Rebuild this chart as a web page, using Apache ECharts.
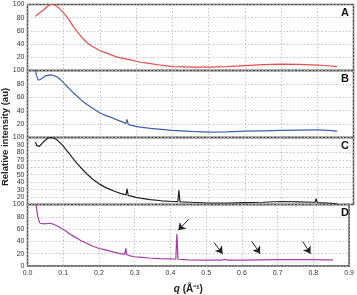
<!DOCTYPE html>
<html>
<head>
<meta charset="utf-8">
<script src="https://cdn.jsdelivr.net/npm/echarts@6/dist/echarts.min.js"></script>
<style>
  html, body { margin: 0; padding: 0; background: #fff; }
  #chart { width: 357px; height: 295px; }
</style>
</head>
<body>
<div id="chart"></div>
<script>
  // q values and intensities
  const qA = [0.022, 0.03, 0.045, 0.055, 0.063, 0.072, 0.082, 0.09, 0.1, 0.109, 0.118, 0.127, 0.137, 0.146, 0.155, 0.165, 0.174, 0.187, 0.2, 0.215, 0.229, 0.242, 0.256, 0.27, 0.284, 0.3, 0.311, 0.325, 0.339, 0.37, 0.4, 0.45, 0.5, 0.55, 0.6, 0.65, 0.7, 0.75, 0.8, 0.83, 0.855]
  const valA = [82, 86, 92, 97, 100, 100, 97, 93, 87, 81, 74, 66, 59, 53, 47, 42, 38, 34, 30, 27, 24, 21.5, 19, 17.5, 16, 14, 12.5, 11.5, 10.5, 8, 6, 5, 5, 6, 7.5, 8.8, 9.7, 9.3, 8.2, 7.2, 6]

  const qB = [0.021, 0.025, 0.029, 0.031, 0.035, 0.04, 0.05, 0.063, 0.072, 0.082, 0.091, 0.1, 0.109, 0.118, 0.127, 0.137, 0.15, 0.165, 0.18, 0.2, 0.215, 0.229, 0.242, 0.256, 0.272, 0.275, 0.278, 0.284, 0.3, 0.311, 0.339, 0.37, 0.4, 0.45, 0.5, 0.55, 0.6, 0.65, 0.7, 0.75, 0.792, 0.795, 0.798, 0.83, 0.855]
  const valB = [101, 93, 86, 85, 86.5, 89, 92, 93.5, 92.5, 90.5, 86.5, 81.5, 76.5, 71.5, 66.5, 61.5, 55, 49, 43.5, 36.5, 33, 30.5, 27.5, 24.5, 21, 27, 19.5, 18.5, 16.5, 15.5, 13.5, 12, 10.5, 9, 8, 8.5, 9.5, 10, 10.5, 11, 11.5, 14, 11.5, 10.5, 9.5]

  const qC = [0.022, 0.026, 0.029, 0.033, 0.04, 0.048, 0.056, 0.065, 0.074, 0.082, 0.091, 0.1, 0.109, 0.118, 0.127, 0.137, 0.15, 0.165, 0.18, 0.2, 0.215, 0.229, 0.242, 0.256, 0.272, 0.275, 0.278, 0.284, 0.3, 0.311, 0.339, 0.37, 0.4, 0.415, 0.418, 0.421, 0.45, 0.5, 0.55, 0.6, 0.65, 0.7, 0.75, 0.794, 0.797, 0.8, 0.83, 0.855]
  const valC = [94, 89, 86.8, 88, 92, 96, 99, 100, 99, 96.5, 92.5, 87.7, 82, 76.5, 71, 65, 58, 50.6, 44, 37, 33, 30, 27.5, 25, 23, 31, 22, 21.5, 19.5, 18.5, 16.5, 15, 14, 13.8, 29, 13.5, 13, 12, 12, 12.5, 13, 14, 13.5, 13, 18, 12.5, 12, 11]

  const qD = [0.021, 0.025, 0.029, 0.032, 0.035, 0.04, 0.047, 0.054, 0.063, 0.072, 0.082, 0.091, 0.1, 0.109, 0.118, 0.127, 0.137, 0.15, 0.165, 0.18, 0.2, 0.215, 0.229, 0.242, 0.256, 0.272, 0.275, 0.278, 0.284, 0.3, 0.311, 0.339, 0.37, 0.4, 0.415, 0.418, 0.421, 0.45, 0.5, 0.545, 0.553, 0.56, 0.6, 0.65, 0.7, 0.75, 0.794, 0.797, 0.8, 0.83, 0.855]
  const valD = [115, 95, 80, 73, 69.5, 68, 68.5, 69, 69.5, 68, 65.5, 62.5, 59.5, 56, 52, 49, 45.5, 41, 37, 33, 28.5, 26.5, 24.5, 22.5, 20.5, 18.8, 28.5, 18.2, 17, 15, 14.5, 13, 12, 11.5, 11, 52, 11, 10, 9.5, 9.5, 11, 9.5, 9.5, 10, 10.5, 10.5, 10.5, 12.5, 10.5, 10, 10]

  // arrows in panel D: [tailQ, tailVal, headQ, headVal]
  const arrowsD = [
    [0.451, 76, 0.422, 58],
    [0.522, 38, 0.546, 20],
    [0.628, 40, 0.651, 20],
    [0.770, 40, 0.792, 20]
  ]

  const panelNames = ['A', 'B', 'C', 'D']
  const panelColors = ['#e2504f', '#3c5fae', '#222222', '#a23ea6']
  const panelMin = [0, 0, 10, 0]
  const panelStep = [20, 20, 10, 20]
  const xTicks = [0, 0.9, 0.1]

  const panelTop = [4.5, 70.5, 137.5, 204.5]
  const panelHeight = [66, 67, 67, 66.5]

  const qs = [qA, qB, qC, qD]
  const vals = [valA, valB, valC, valD]

  const chart = echarts.init(document.getElementById('chart'), null, { renderer: 'canvas' })

  const grid = panelTop.map((top, i) => ({
    left: 27.5,
    right: 3.5,
    top: top,
    height: panelHeight[i],
    show: true,
    borderColor: '#4a4a4a',
    borderWidth: 1.5
  }))

  const xAxis = panelNames.map((n, i) => ({
    type: 'value',
    gridIndex: i,
    min: xTicks[0],
    max: xTicks[1],
    interval: xTicks[2],
    axisLine: { show: false },
    axisTick: { show: false },
    splitLine: { lineStyle: { color: '#b5b5b5', type: [1.5, 2], width: 0.8 } },
    axisLabel: {
      show: i === 3,
      fontSize: 7,
      color: '#333',
      margin: 4,
      fontFamily: 'Liberation Sans',
      formatter: v => v.toFixed(1)
    },
    name: i === 3 ? '{i|q} (Å⁻¹)' : '',
    nameLocation: 'middle',
    nameGap: 18,
    nameTextStyle: {
      fontSize: 10,
      fontWeight: 'bold',
      color: '#222',
      fontFamily: 'Liberation Sans',
      rich: { i: { fontStyle: 'italic', fontWeight: 'bold', fontSize: 10, fontFamily: 'Liberation Sans' } }
    }
  }))

  const yAxis = panelNames.map((n, i) => ({
    type: 'value',
    gridIndex: i,
    min: panelMin[i],
    max: 100,
    interval: panelStep[i],
    axisLine: { show: false },
    axisTick: { show: false },
    splitLine: { lineStyle: { color: '#b5b5b5', type: [1.5, 2], width: 0.8 } },
    axisLabel: {
      fontSize: 7,
      color: '#333',
      margin: 3,
      fontFamily: 'Liberation Sans',
      showMinLabel: i === 3,
      showMaxLabel: true
    }
  }))

  const series = panelNames.map((n, i) => {
    const s = {
      name: n,
      type: 'line',
      xAxisIndex: i,
      yAxisIndex: i,
      showSymbol: false,
      clip: true,
      lineStyle: { color: panelColors[i], width: 1.2 },
      data: qs[i].map((q, k) => [q, vals[i][k]])
    }
    if (n === 'D') {
      s.markLine = {
        silent: true,
        symbol: ['none', 'arrow'],
        symbolSize: 7,
        label: { show: false },
        lineStyle: { color: '#222', type: 'solid', width: 1 },
        data: arrowsD.map(a => [{ coord: [a[0], a[1]] }, { coord: [a[2], a[3]] }])
      }
    }
    return s
  })

  const letters = panelNames.map((n, i) => ({
    type: 'text',
    right: 8,
    top: panelTop[i] + 3,
    style: { text: n, fontSize: 11, fontWeight: 'bold', fill: '#111', fontFamily: 'Liberation Sans' }
  }))

  chart.setOption({
    animation: false,
    grid,
    xAxis,
    yAxis,
    series,
    graphic: letters.concat([{
      type: 'text',
      x: 0.5,
      y: 137,
      rotation: Math.PI / 2,
      style: {
        text: 'Relative intensity (au)',
        fontSize: 9.5,
        fontWeight: 'bold',
        fill: '#222',
        fontFamily: 'Liberation Sans',
        align: 'center',
        verticalAlign: 'top'
      }
    }])
  })
</script>
</body>
</html>
